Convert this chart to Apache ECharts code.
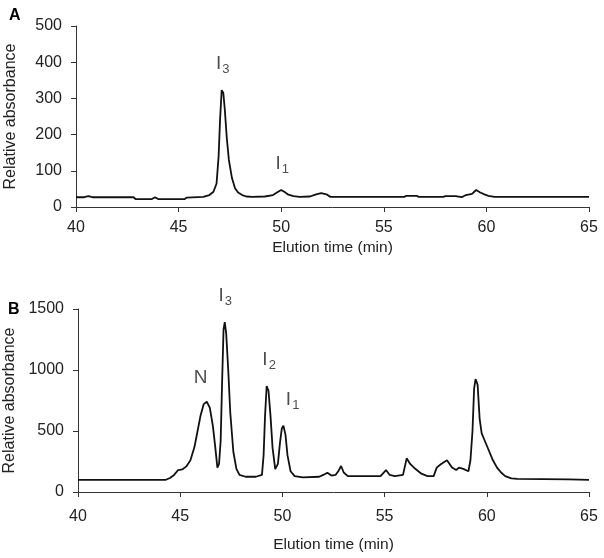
<!DOCTYPE html>
<html>
<head>
<meta charset="utf-8">
<script src="https://cdn.jsdelivr.net/npm/echarts@6/dist/echarts.min.js"></script>
<style>
  html, body { margin: 0; padding: 0; background: #fff; }
  #chart { width: 604px; height: 558px; }
</style>
</head>
<body>
<div id="chart"></div>
<script>
// panel A: elution time (min) and relative absorbance
const timeA = [40, 40.4, 40.6, 40.8, 42.8, 42.9, 43.7, 43.85, 44.0, 45.3, 45.4, 46.2, 46.5, 46.7, 46.85, 46.95, 47.02, 47.1, 47.18, 47.25, 47.35, 47.45, 47.6, 47.75, 47.9, 48.1, 48.3, 48.6, 49.2, 49.6, 49.85, 50.0, 50.15, 50.35, 50.6, 50.9, 51.4, 51.7, 51.95, 52.2, 52.4, 56.0, 56.1, 56.6, 56.7, 57.9, 58.0, 58.5, 58.8, 59.0, 59.3, 59.5, 59.7, 59.9, 60.1, 60.4, 65];
const absA  = [27, 27, 30, 27, 27, 22, 22, 27, 22, 22, 26, 28, 33, 42, 65, 140, 240, 323, 315, 270, 190, 130, 80, 52, 40, 33, 29, 28, 29, 33, 42, 47, 42, 34, 30, 28, 29, 35, 38, 35, 28, 28, 31, 31, 28, 28, 30, 30, 27, 33, 36, 47, 40, 35, 31, 28, 28];

// panel B
const timeB = [40, 44.3, 44.5, 44.7, 44.9, 45.1, 45.3, 45.5, 45.7, 45.85, 46.0, 46.15, 46.3, 46.45, 46.6, 46.72, 46.82, 46.9, 46.98, 47.05, 47.12, 47.18, 47.25, 47.35, 47.45, 47.6, 47.75, 47.9, 48.2, 48.7, 49.0, 49.08, 49.15, 49.23, 49.32, 49.42, 49.52, 49.65, 49.78, 49.88, 49.97, 50.05, 50.15, 50.25, 50.4, 50.6, 51.0, 51.8, 52.0, 52.2, 52.4, 52.6, 52.75, 52.87, 53.0, 53.2, 54.8, 55.07, 55.25, 55.5, 55.9, 56.08, 56.25, 56.5, 56.8, 57.1, 57.4, 57.55, 57.75, 58.05, 58.3, 58.5, 58.64, 58.85, 59.1, 59.2, 59.3, 59.38, 59.45, 59.55, 59.65, 59.75, 59.9, 60.1, 60.3, 60.5, 60.7, 60.9, 61.2, 61.5, 64.0, 65];
const absB  = [100, 100, 115, 140, 180, 185, 210, 260, 370, 500, 630, 720, 740, 690, 540, 360, 200, 230, 420, 900, 1330, 1393, 1300, 1000, 650, 330, 190, 140, 125, 125, 140, 300, 620, 869, 830, 620, 360, 188, 230, 400, 520, 543, 470, 300, 170, 130, 120, 125, 140, 158, 135, 140, 175, 213, 160, 130, 130, 180, 140, 130, 140, 276, 230, 190, 150, 130, 130, 200, 227, 260, 200, 180, 200, 190, 170, 260, 500, 850, 926, 880, 600, 480, 420, 340, 260, 200, 160, 130, 112, 108, 103, 100];

// peak annotations [time, absorbance, name]
const peaksA = [[47.15, 323, "3"], [50.05, 47, "1"]];
const peaksB = [[46.0, 740, "N"], [47.2, 1393, "3"], [49.35, 869, "2"], [50.5, 543, "1"]];

const zip = (xs, ys) => xs.map((x, i) => [x, ys[i]]);

const textStyle = { fontFamily: "Liberation Sans, Arial, sans-serif", color: "#222" };

function xAxisFor(gridIndex, margin, nameGap) {
  return {
    type: "value", gridIndex, min: 40, max: 65, interval: 5,
    name: "Elution time (min)", nameLocation: "middle", nameGap,
    nameTextStyle: { ...textStyle, fontSize: 15.5 },
    axisLine: { lineStyle: { color: "#333", width: 1 } },
    axisTick: { length: 5, lineStyle: { color: "#333" } },
    axisLabel: { ...textStyle, fontSize: 16, margin },
    splitLine: { show: false },
  };
}
function yAxisFor(gridIndex, max, interval) {
  return {
    type: "value", gridIndex, min: 0, max, interval,
    name: "Relative absorbance", nameLocation: "middle", nameGap: 57,
    nameTextStyle: { ...textStyle, fontSize: 16 },
    axisLine: { show: true, lineStyle: { color: "#333", width: 1 } },
    axisTick: { show: true, length: 5, lineStyle: { color: "#333" } },
    axisLabel: { ...textStyle, fontSize: 16, margin: 14, formatter: v => String(v) },
    splitLine: { show: false },
  };
}
function labelSeries(peaks, idx) {
  return {
    type: "scatter", xAxisIndex: idx, yAxisIndex: idx, symbolSize: 0, silent: true,
    data: peaks.map(p => ({ value: [p[0], p[1]], name: p[2] })),
    label: {
      show: true, position: "top", distance: 14,
      formatter: p => p.name === "N" ? "{m|N}" : "{m|I}{s|" + p.name + "}",
      rich: {
        m: { ...textStyle, fontSize: 19 },
        s: { ...textStyle, fontSize: 13, verticalAlign: "bottom", padding: [11, 0, 0, 1] },
      },
    },
  };
}

const chart = echarts.init(document.getElementById("chart"));
chart.setOption({
  animation: false,
  backgroundColor: "#fff",
  title: [
    { text: "A", left: 4, top: 3, textStyle: { ...textStyle, color: "#000", fontSize: 16, fontWeight: "bold" } },
    { text: "B", left: 3, top: 297, textStyle: { ...textStyle, color: "#000", fontSize: 16, fontWeight: "bold" } },
  ],
  grid: [
    { left: 76, right: 15, top: 26, height: 181, outerBoundsMode: "none" },
    { left: 78, right: 15, top: 309, height: 183, outerBoundsMode: "none" },
  ],
  xAxis: [xAxisFor(0, 13, 33), xAxisFor(1, 17, 45)],
  yAxis: [yAxisFor(0, 500, 100), yAxisFor(1, 1500, 500)],
  series: [
    { type: "line", xAxisIndex: 0, yAxisIndex: 0, data: zip(timeA, absA), showSymbol: false,
      lineStyle: { color: "#111", width: 1.8 } },
    { type: "line", xAxisIndex: 1, yAxisIndex: 1, data: zip(timeB, absB), showSymbol: false,
      lineStyle: { color: "#111", width: 1.8 } },
    labelSeries(peaksA, 0),
    labelSeries(peaksB, 1),
  ],
});
</script>
</body>
</html>
